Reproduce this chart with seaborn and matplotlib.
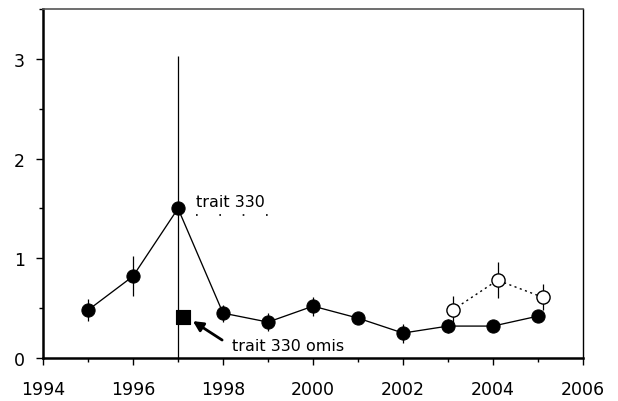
import matplotlib
matplotlib.use("Agg")
import matplotlib.pyplot as plt
import seaborn as sns
import pandas as pd
from matplotlib.ticker import MultipleLocator

# ---- data ----
years = [1995, 1996, 1997, 1998, 1999, 2000, 2001, 2002, 2003, 2004, 2005]
values = [0.48, 0.82, 1.50, 0.45, 0.36, 0.52, 0.40, 0.25, 0.32, 0.32, 0.42]
errors = [0.11, 0.20, 1.53, 0.085, 0.09, 0.095, 0.05, 0.095, 0.07, 0.0, 0.04]

open_years = [2003.1, 2004.1, 2005.1]
open_values = [0.48, 0.78, 0.61]
open_errors = [0.14, 0.18, 0.13]

omit_year = [1997.1]
omit_value = [0.41]

label_main = "trait 330"
label_omit = "trait 330 omis"
legend_line_x = [1997.4, 1999.0]
legend_line_y = [1.43, 1.43]

x_ticks = [1994, 1996, 1998, 2000, 2002, 2004, 2006]
y_ticks = [0, 1, 2, 3]

sns.set_style("white")
plt.rcParams["font.family"] = ["DejaVu Sans"]
plt.rcParams["text.color"] = "black"
plt.rcParams["xtick.color"] = "black"
plt.rcParams["ytick.color"] = "black"

fig = plt.figure(figsize=(6.18, 4.02), dpi=100)
ax = fig.add_axes([0.0696, 0.107, 0.8738, 0.868])

df_main = pd.DataFrame({"year": years, "value": values})
df_open = pd.DataFrame({"year": open_years, "value": open_values})
df_omit = pd.DataFrame({"year": omit_year, "value": omit_value})
df_leg = pd.DataFrame({"x": legend_line_x, "y": legend_line_y})

# error bars
ax.errorbar(years, values, yerr=errors, fmt="none", ecolor="black",
            elinewidth=0.9, capsize=0, zorder=2)
ax.errorbar(open_years, open_values, yerr=open_errors, fmt="none",
            ecolor="black", elinewidth=0.9, capsize=0, zorder=2)

# main filled series
sns.lineplot(data=df_main, x="year", y="value", ax=ax, color="black",
             linewidth=0.95, marker="o", markersize=9.5, markeredgecolor="black",
             markerfacecolor="black", zorder=3)
# open series (dotted)
sns.lineplot(data=df_open, x="year", y="value", ax=ax, color="black",
             linewidth=1.0, linestyle=(0, (1.5, 2.5)), marker="o", markersize=9.5,
             markeredgecolor="black", markerfacecolor="white",
             markeredgewidth=1.0, zorder=3)
# omitted square
sns.scatterplot(data=df_omit, x="year", y="value", ax=ax, marker="s", s=105,
                color="black", edgecolor="black", zorder=4)
# sparse dotted line under "trait 330"
sns.lineplot(data=df_leg, x="x", y="y", ax=ax, color="black", linewidth=1.2,
             linestyle=(0, (1, 13)), zorder=2)

ax.text(1997.4, 1.57, label_main, fontsize=11.5, va="center", ha="left",
        color="black")
ax.text(1998.2, 0.13, label_omit, fontsize=11.5, va="center", ha="left",
        color="black")
ax.annotate("", xy=(1997.33, 0.37), xytext=(1997.98, 0.18),
            arrowprops=dict(arrowstyle="-|>,head_length=0.6,head_width=0.3",
                            color="black", lw=2.0, shrinkA=0, shrinkB=0))

ax.set_xlim(1994, 2006)
ax.set_ylim(0, 3.5)
ax.set_xticks(x_ticks)
ax.set_xticklabels([str(t) for t in x_ticks])
ax.set_yticks(y_ticks)
ax.set_yticklabels([str(t) for t in y_ticks])
ax.xaxis.set_minor_locator(MultipleLocator(1))
ax.yaxis.set_minor_locator(MultipleLocator(0.5))
ax.tick_params(axis="both", which="major", direction="out", length=5,
               width=1.0, labelsize=12.5, color="black", labelcolor="black",
               bottom=True, left=True, top=False, right=False)
ax.tick_params(axis="x", which="major", pad=11)
ax.tick_params(axis="y", which="major", pad=8)
ax.tick_params(axis="both", which="minor", direction="out", length=3,
               width=1.0, color="black", bottom=True, left=True,
               top=False, right=False)
ax.set_xlabel("")
ax.set_ylabel("")
if ax.get_legend():
    ax.get_legend().remove()

for side in ["left", "bottom"]:
    ax.spines[side].set_color("black")
    ax.spines[side].set_linewidth(1.8)
ax.spines["top"].set_color("#555555")
ax.spines["top"].set_linewidth(1.2)
ax.spines["right"].set_color("black")
ax.spines["right"].set_linewidth(1.0)

fig.savefig("out.png", dpi=100)
